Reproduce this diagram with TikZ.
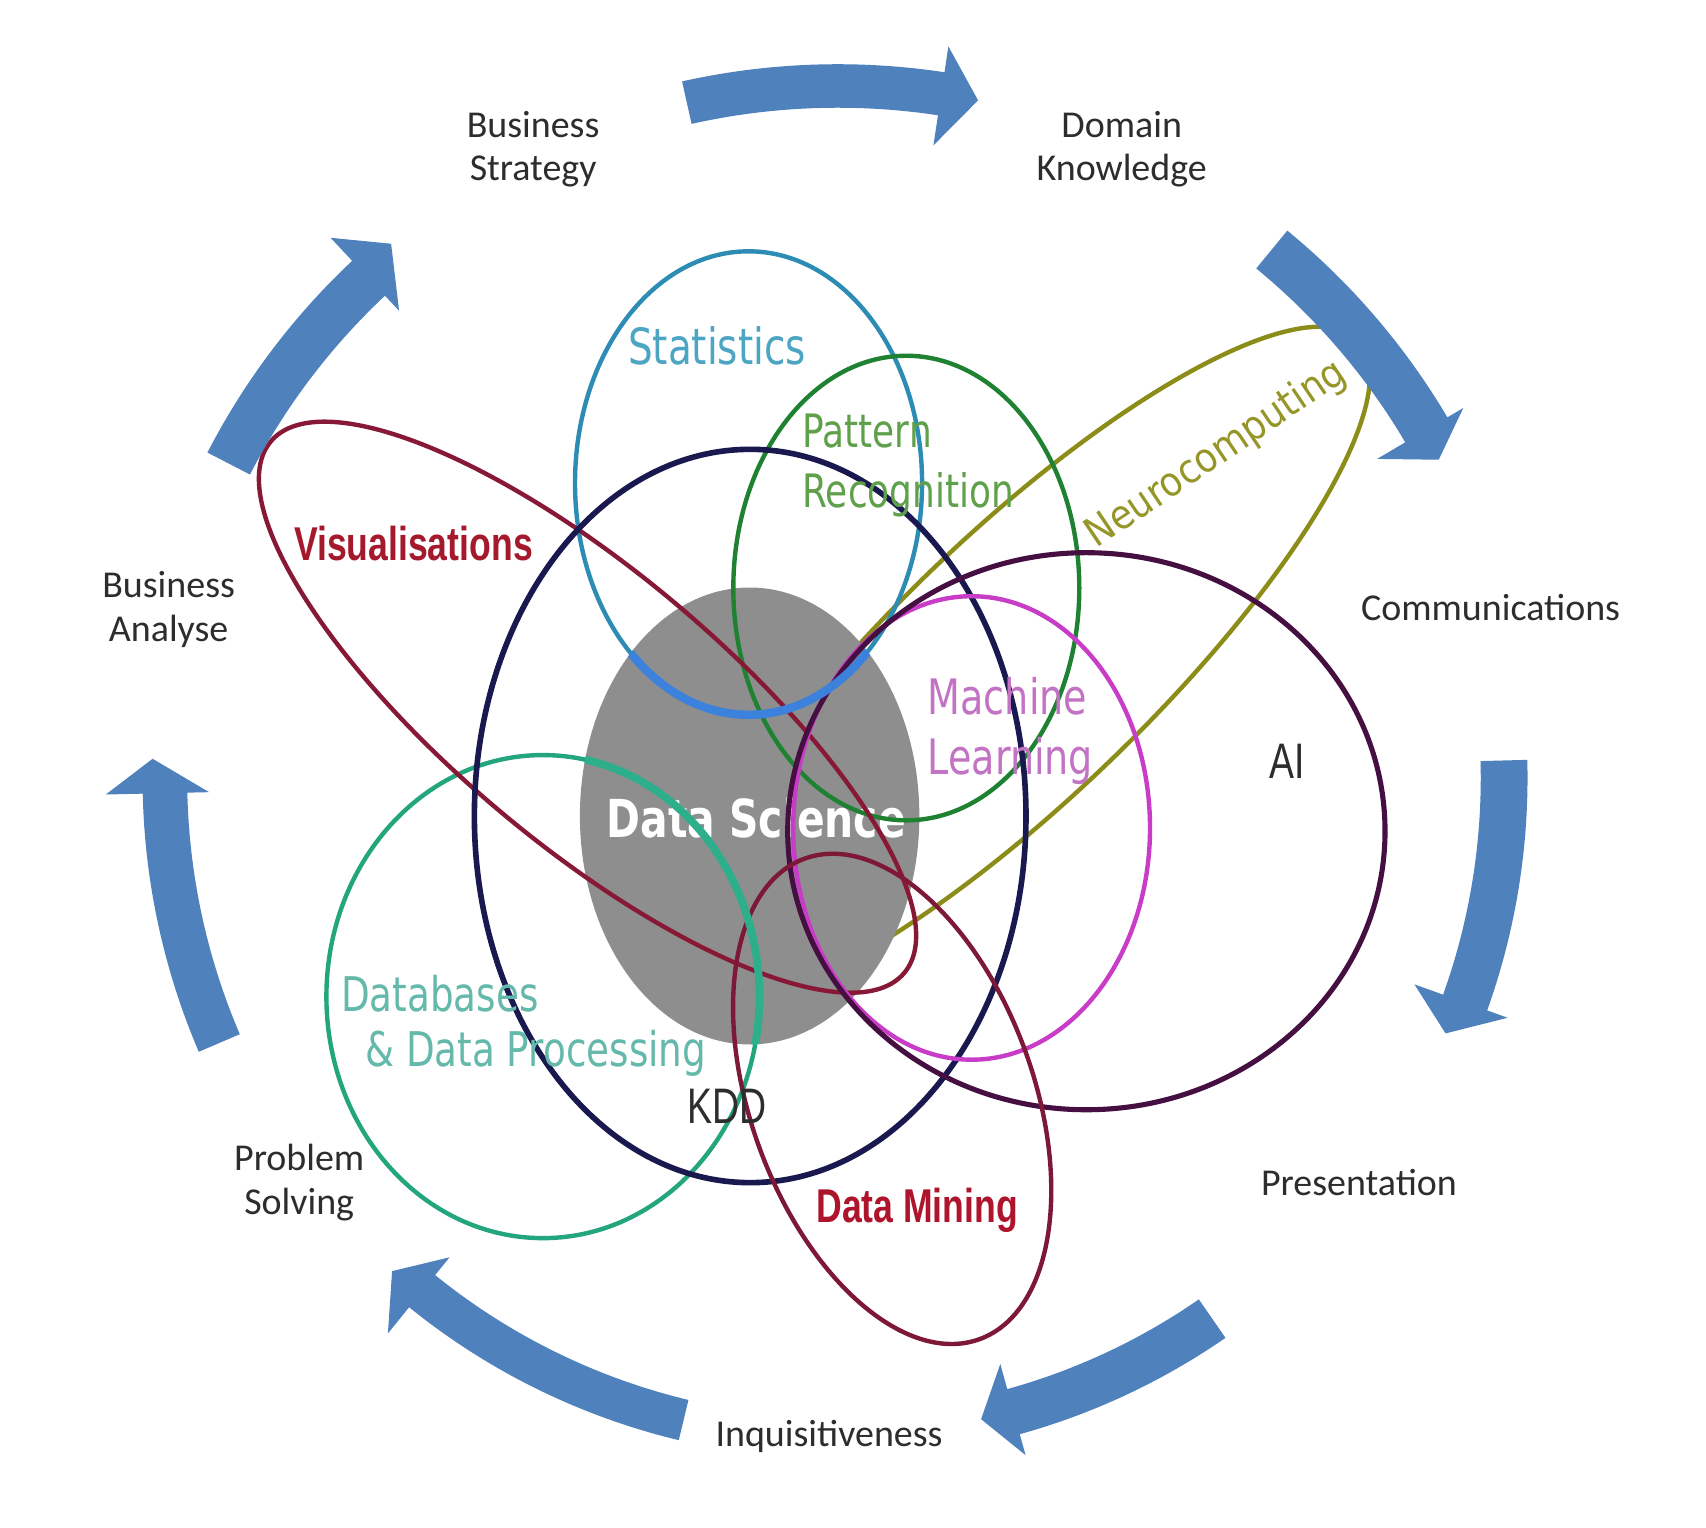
\documentclass[tikz,border=0pt]{standalone}
\usepackage{fontspec}
\setmainfont{DejaVu Sans}
\newfontfamily\outerfont{Carlito}
\newfontfamily\innerfont{DejaVu Sans}[FakeStretch=0.78]
\newfontfamily\neurofont{DejaVu Sans}[FakeStretch=0.9]
\newfontfamily\narrowfont{Liberation Sans}[FakeStretch=0.75]
\definecolor{arrowblue}{RGB}{79,129,189}
\definecolor{statcol}{RGB}{45,140,180}
\definecolor{statlab}{RGB}{75,165,195}
\definecolor{statin}{RGB}{60,130,220}
\definecolor{patcol}{RGB}{30,130,50}
\definecolor{patlab}{RGB}{95,160,75}
\definecolor{neurocol}{RGB}{140,140,25}
\definecolor{neurolab}{RGB}{150,150,40}
\definecolor{aicol}{RGB}{70,15,65}
\definecolor{mlcol}{RGB}{200,60,200}
\definecolor{mllab}{RGB}{195,115,195}
\definecolor{kddcol}{RGB}{25,25,80}
\definecolor{dbcol}{RGB}{35,165,125}
\definecolor{dblab}{RGB}{100,185,170}
\definecolor{dbin}{RGB}{45,175,140}
\definecolor{viscol}{RGB}{135,25,55}
\definecolor{vislab}{RGB}{165,25,45}
\definecolor{dmcol}{RGB}{125,25,55}
\definecolor{dmlab}{RGB}{175,20,45}
\definecolor{dsgray}{RGB}{142,142,142}
\definecolor{darktext}{RGB}{45,45,45}
\newcommand\cycarrow[8]{%
  \fill[arrowblue] (#1:#4) arc[start angle=#1, end angle=#2, radius=#4]
    -- (#2:#6) -- (#3:#8) -- (#2:#7) -- (#2:#5)
    arc[start angle=#2, end angle=#1, radius=#5] -- cycle;}
\begin{document}
\begin{tikzpicture}[x=0.1088mm,y=0.1088mm,
  outer/.style={font=\outerfont\fontsize{10.8}{12.4}\selectfont, text=darktext, align=center, inner sep=0pt},
  inner/.style={font=\innerfont\fontsize{13.6}{17}\selectfont, align=left, inner sep=0pt},
  bigred/.style={font=\narrowfont\bfseries\fontsize{13.5}{16}\selectfont, inner sep=0pt},
  narrow/.style={font=\narrowfont\fontsize{14.2}{17}\selectfont, text=darktext, inner sep=0pt},
  ring/.style={line width=1.25pt}]
\useasboundingbox (0,0) rectangle (1568,1404);
\fill[white] (0,0) rectangle (1568,1404);

% outer labels
\node[outer] (bstrat) at (490,1267) {Business\\Strategy};
\node[outer] (domain) at (1031,1267) {Domain\\Knowledge};
\node[outer] (comm) at (1370,846) {Communications};
\node[outer] (pres) at (1249,317) {Presentation};
\node[outer] (inq) at (762,84) {Inquisitiveness};
\node[outer] (probs) at (275,317) {Problem\\Solving};
\node[outer] (banal) at (155,844) {Business\\Analyse};

% neurocomputing (under the grey core)
\draw[ring, neurocol, rotate around={44:(938,792)}] (938,792) ellipse[x radius=431, y radius=120];

% data science core
\fill[dsgray] (689,654) ellipse[x radius=156, y radius=210];
\node[font=\innerfont\bfseries\fontsize{14.9}{18}\selectfont, text=white, inner sep=0pt] (ds) at (695,652) {Data Science};

% rings
\draw[ring, statcol] (688,960) ellipse[x radius=159.5, y radius=213];
\draw[ring, patcol] (833,863.5) ellipse[x radius=159, y radius=213.5];
\draw[ring, dbcol] (499,488) ellipse[x radius=199, y radius=222];
\draw[ring, viscol, rotate around={-40:(540,754)}] (540,754) ellipse[x radius=380, y radius=125];
\draw[ring, kddcol, line width=1.6pt] (689.5,654) ellipse[x radius=253.5, y radius=337];
\draw[ring, mlcol] (893,643) ellipse[x radius=164, y radius=213];
\draw[ring, aicol, line width=1.45pt] (998.5,640) ellipse[x radius=274.5, y radius=256];
\draw[ring, dmcol, rotate around={20:(820,394)}] (820,394) ellipse[x radius=130, y radius=235];

% highlighted parts inside the core
\begin{scope}
\clip (689,654) ellipse[x radius=156, y radius=210];
\draw[statin, line width=2.4pt] (688,960) ellipse[x radius=159.5, y radius=213];
\draw[dbin, line width=2.2pt] (499,488) ellipse[x radius=199, y radius=222];
\end{scope}

% inner labels
\node[inner, text=statlab, font=\innerfont\fontsize{14.2}{17}\selectfont] (stat) at (659,1086) {Statistics};
\node[inner, text=patlab, anchor=west, font=\innerfont\fontsize{13.1}{17}\selectfont] (pat) at (737,976) {Pattern\\Recognition};
\node[inner, text=mllab, anchor=west, font=\innerfont\fontsize{13.9}{17}\selectfont] (ml) at (852,732) {Machine\\Learning};
\node[inner, text=dblab, anchor=west] (db1) at (313,491) {Databases};
\node[inner, text=dblab, anchor=west] (db2) at (335,436) {\& Data Processing};
\node[inner, text=neurolab, font=\neurofont\fontsize{11.5}{14}\selectfont, rotate=34] (neuro) at (1118,986) {Neurocomputing};
\node[bigred, text=vislab] (vis) at (380,904) {Visualisations};
\node[bigred, text=dmlab] (dm) at (843,292) {Data Mining};
\node[narrow] (kdd) at (668,387) {KDD};
\node[narrow] (ai) at (1183,704) {AI};

% cycle arrows (on top)
\begin{scope}[shift={(770,689)}]
\cycarrow{102.6}{81.4}{78.3}{616}{656}{588}{680}{636}
\cycarrow{50.6}{30.6}{27.9}{606}{651}{576}{668}{625}
\cycarrow{1.5}{-19.7}{-22.8}{591}{634}{563}{654}{606}
\cycarrow{-55.3}{-74.5}{-77.4}{583}{626}{559}{646}{604}
\cycarrow{-103.5}{-129}{-132.1}{588}{626}{567}{657}{611}
\cycarrow{-156.8}{-178.7}{-181.6}{598}{639}{578}{673}{630}
\cycarrow{152.7}{133.2}{129.9}{608}{652}{589}{681}{640}
\end{scope}
\end{tikzpicture}
\end{document}
